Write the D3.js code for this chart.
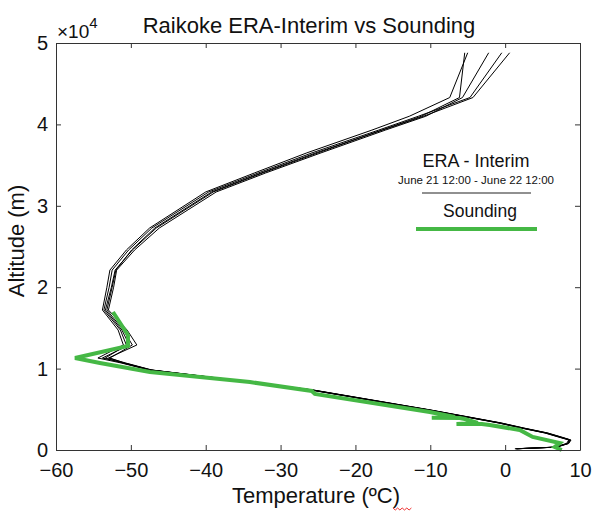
<!DOCTYPE html>
<html>
<head>
<meta charset="utf-8">
<script src="https://cdn.jsdelivr.net/npm/d3@7"></script>
<style>
  body { margin: 0; background: #fff; }
  text { font-family: "Liberation Sans", Arial, sans-serif; fill: #111; }
</style>
</head>
<body>
<div id="chart"></div>
<script>
// ERA-Interim levels (m) and the 5 profiles (degC)
var eraAlt = [150, 350, 800, 1230, 1600, 2090, 2700, 3320, 4910, 7370, 8350, 9830, 10690, 11300, 12900, 14740, 17200, 20000, 22100, 24570, 27270, 31700, 34030, 36500, 39300, 41000, 43300, 48800];
var era1 = [1.3, 6.6, 8.2, 8.5, 7.1, 5.3, 2.1, -0.9, -10.3, -26.0, -34.3, -47.6, -51.3, -54.4, -51.0, -51.7, -53.8, -53.2, -52.8, -50.6, -47.5, -40.0, -33.5, -26.5, -17.8, -12.8, -7.4, -5.0];
var era2 = [1.5, 6.8, 8.4, 8.7, 7.4, 5.6, 2.4, -0.6, -10.0, -25.7, -34.0, -47.3, -50.9, -53.8, -50.2, -51.2, -53.4, -52.6, -52.1, -49.8, -46.6, -39.0, -32.4, -25.0, -16.5, -11.2, -6.1, -5.4];
var era3 = [1.6, 6.9, 8.5, 8.8, 7.5, 5.7, 2.5, -0.5, -9.9, -25.6, -33.9, -47.2, -50.7, -53.0, -49.2, -50.5, -53.0, -52.3, -51.9, -49.5, -46.2, -38.6, -32.0, -24.6, -16.0, -10.6, -5.7, -2.2];
var era4 = [1.4, 6.7, 8.3, 8.6, 7.2, 5.4, 2.2, -0.8, -10.2, -25.9, -34.2, -47.5, -51.1, -53.4, -50.6, -51.4, -53.6, -52.9, -52.5, -50.3, -47.2, -39.6, -33.0, -25.8, -16.9, -11.6, -4.7, -0.45];
var era5 = [1.5, 6.8, 8.4, 8.7, 7.3, 5.5, 2.3, -0.7, -10.1, -25.8, -34.1, -47.4, -50.9, -52.8, -49.8, -51.0, -53.2, -52.5, -52.0, -49.9, -46.8, -39.2, -32.6, -25.3, -16.4, -10.9, -4.3, 0.6];

// sounding
var soundAlt = [0, 370, 860, 1600, 2460, 3070, 3190, 3200, 3320, 3810, 3930, 3950, 4050, 4670, 6880, 7250, 8350, 9580, 10690, 11300, 12780, 14130, 16950];
var soundTemp = [7.56, 6.62, 7.29, 3.68, 1.95, -2.06, -3.12, -6.5, -3.66, -5.39, -6.06, -9.8, -6.73, -10.07, -25.42, -25.82, -34.1, -47.45, -54.13, -57.46, -50.39, -50.39, -52.39];

var xTicks = [-60, -50, -40, -30, -20, -10, 0, 10];
var yTicks = [0, 10000, 20000, 30000, 40000, 50000];

svgWidth = 593;
svgHeight = 511;

margin = { top: 43, bottom: 61, left: 56, right: 13 };

width = svgWidth - margin.left - margin.right;
height = svgHeight - margin.top - margin.bottom;

svg = d3.select("#chart")
    .append("svg")
    .attr("width", svgWidth)
    .attr("height", svgHeight);

chartGroup = svg.append("g")
    .attr("transform", `translate(${margin.left}, ${margin.top})`);

var x = d3.scaleLinear().domain([-60, 10]).range([0, width]);
var y = d3.scaleLinear().domain([0, 50000]).range([height, 0]);

//profiles
var line = d3.line()
    .x(d => x(d[0]))
    .y(d => y(d[1]));

[era1, era2, era3, era4, era5].forEach(function (temps) {
    chartGroup.append("path")
        .datum(temps.map((t, i) => [t, eraAlt[i]]))
        .attr("fill", "none")
        .attr("stroke", "#000")
        .attr("stroke-width", 1)
        .attr("d", line);
});

chartGroup.append("path")
    .datum(soundTemp.map((t, i) => [t, soundAlt[i]]))
    .attr("fill", "none")
    .attr("stroke", "#45b845")
    .attr("stroke-width", 4)
    .attr("stroke-linejoin", "miter")
    .attr("d", line);

//axes, ticks inside like matlab
function styleAxis(g) {
    g.selectAll("path, line").attr("stroke", "#333");
    g.selectAll("text").attr("font-size", "20px").attr("fill", "#111")
        .attr("font-family", "Liberation Sans, Arial, sans-serif");
}

chartGroup.append("g")
    .attr("transform", `translate(0, ${height})`)
    .call(d3.axisBottom(x).tickValues(xTicks).tickSizeInner(-5).tickSizeOuter(0).tickPadding(13))
    .call(styleAxis);

chartGroup.append("g")
    .call(d3.axisLeft(y).tickValues(yTicks).tickSizeInner(-5).tickSizeOuter(0).tickPadding(8)
        .tickFormat(d => d / 10000))
    .call(styleAxis);

chartGroup.append("g")
    .call(d3.axisTop(x).tickValues(xTicks).tickSizeInner(-5).tickSizeOuter(0).tickFormat(""))
    .call(styleAxis);

chartGroup.append("g")
    .attr("transform", `translate(${width}, 0)`)
    .call(d3.axisRight(y).tickValues(yTicks).tickSizeInner(-5).tickSizeOuter(0).tickFormat(""))
    .call(styleAxis);

//exponent
var expo = svg.append("text")
    .attr("x", margin.left + 1)
    .attr("y", 38)
    .attr("font-size", "19px");
expo.append("tspan").text("×10");
expo.append("tspan").attr("dy", -10).attr("font-size", "15px").text("4");

//titles
svg.append("text")
    .attr("x", 309)
    .attr("y", 33)
    .attr("text-anchor", "middle")
    .attr("font-size", "22px")
    .text("Raikoke ERA-Interim vs Sounding");

svg.append("text")
    .attr("x", 316)
    .attr("y", 503)
    .attr("text-anchor", "middle")
    .attr("font-size", "22px")
    .text("Temperature (ºC)");

// spellcheck squiggle from the original screenshot
svg.append("path")
    .attr("d", d3.range(0, 9).map((i) => (i === 0 ? "M" : "L") + (393 + i * 2.3) + "," + (508 + (i % 2) * 2)).join(""))
    .attr("fill", "none")
    .attr("stroke", "#e33")
    .attr("stroke-width", 1);

svg.append("text")
    .attr("transform", "translate(24, 241) rotate(-90)")
    .attr("text-anchor", "middle")
    .attr("font-size", "22px")
    .text("Altitude (m)");

//legend
var lx = 476;
svg.append("text").attr("x", lx).attr("y", 167).attr("text-anchor", "middle")
    .attr("font-size", "18px").text("ERA - Interim");
svg.append("text").attr("x", lx).attr("y", 184).attr("text-anchor", "middle")
    .attr("font-size", "11.5px").text("June 21 12:00 - June 22 12:00");
svg.append("line").attr("x1", 422).attr("x2", 531).attr("y1", 193).attr("y2", 193)
    .attr("stroke", "#222").attr("stroke-width", 1.2);
svg.append("text").attr("x", 480).attr("y", 217).attr("text-anchor", "middle")
    .attr("font-size", "17.5px").text("Sounding");
svg.append("line").attr("x1", 416).attr("x2", 537).attr("y1", 229).attr("y2", 229)
    .attr("stroke", "#45b845").attr("stroke-width", 4);
</script>
</body>
</html>
